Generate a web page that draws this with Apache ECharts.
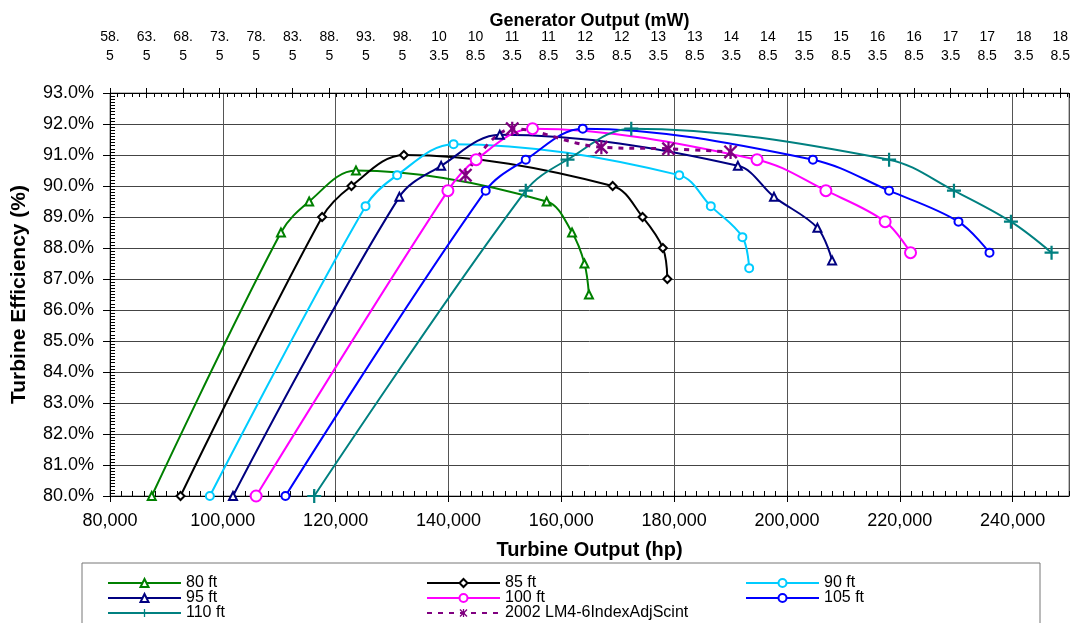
<!DOCTYPE html>
<html>
<head>
<meta charset="utf-8">
<script src="https://cdn.jsdelivr.net/npm/echarts@6/dist/echarts.min.js"></script>
<style>
  html, body { margin: 0; padding: 0; background: #fff; }
  #chart { width: 1073px; height: 623px; }
</style>
</head>
<body>
<div id="chart"></div>
<script>
// turbine output (hp) and efficiency (%) per head
const hp80 = [87400, 110300, 115300, 123600, 157400, 161900, 164100, 164900];
const eff80 = [80.0, 88.5, 89.5, 90.5, 89.5, 88.5, 87.5, 86.5];

const hp85 = [92500, 117600, 122800, 132100, 169100, 174400, 178000, 178800];
const eff85 = [80.0, 89.0, 90.0, 91.0, 90.0, 89.0, 88.0, 87.0];

const hp90 = [97700, 125300, 130900, 140900, 180900, 186500, 192100, 193300];
const eff90 = [80.0, 89.35, 90.35, 91.35, 90.35, 89.35, 88.35, 87.35];

const hp95 = [101800, 131300, 138700, 149100, 191300, 197700, 205400, 208000];
const eff95 = [80.0, 89.65, 90.65, 91.65, 90.65, 89.65, 88.65, 87.6];

const hp100 = [105900, 139900, 144900, 154900, 194700, 206900, 217400, 221900];
const eff100 = [80.0, 89.85, 90.85, 91.85, 90.85, 89.85, 88.85, 87.85];

const hp105 = [111100, 146600, 153700, 163800, 204600, 218100, 230400, 235900];
const eff105 = [80.0, 89.85, 90.85, 91.85, 90.85, 89.85, 88.85, 87.85];

const hp110 = [116200, 153700, 161100, 172400, 218100, 229600, 239700, 246900];
const eff110 = [80.0, 89.85, 90.85, 91.85, 90.85, 89.85, 88.85, 87.85];

const hpIdx = [143000, 151300, 167100, 179000, 190000];
const effIdx = [90.35, 91.85, 91.25, 91.2, 91.1];

// top axis (generator output, mW) tick labels
const genTicks = ['58.5', '63.5', '68.5', '73.5', '78.5', '83.5', '88.5', '93.5', '98.5',
  '103.5', '108.5', '113.5', '118.5', '123.5', '128.5', '133.5', '138.5', '143.5',
  '148.5', '153.5', '158.5', '163.5', '168.5', '173.5', '178.5', '183.5', '188.5'];

const font = 'Liberation Sans, Arial, sans-serif';

const plusPath = 'path://M4.2,0h1.6v10h-1.6z M0,4.2h10v1.6h-10z';
const starPath = 'path://M4.2,0h1.6v10h-1.6z M0,1.2L1.2,0L10,8.8L8.8,10z M8.8,0L10,1.2L1.2,10L0,8.8z';

function pairs(xs, ys) {
  return xs.map((x, i) => [x, ys[i]]);
}

function makeSeries(name, xs, ys, color, symbol, size, extra) {
  return Object.assign({
    name: name,
    type: 'line',
    xAxisIndex: 0,
    yAxisIndex: 0,
    smooth: 0.35,
    data: pairs(xs, ys),
    symbol: symbol,
    symbolSize: size,
    showAllSymbol: true,
    lineStyle: { color: color, width: 2 },
    itemStyle: { color: '#fff', borderColor: color, borderWidth: 2 },
    emphasis: { disabled: true },
    animation: false
  }, extra || {});
}

const chart = echarts.init(document.getElementById('chart'));

// one legend per entry so the three columns line up like the original
function legendItem(left, top, name) {
  return {
    left: left,
    top: top,
    padding: 0,
    itemWidth: 73,
    itemHeight: 10,
    data: [name],
    textStyle: { fontFamily: font, fontSize: 16, color: '#000', lineHeight: 16 },
    selectedMode: false
  };
}

const option = {
  animation: false,
  textStyle: { fontFamily: font },
  grid: {
    left: 110, top: 93, width: 962, height: 403,
    show: true, borderColor: '#777', borderWidth: 1
  },
  graphic: [{
    type: 'rect',
    shape: { x: 82, y: 563, width: 958, height: 70 },
    style: { fill: 'none', stroke: '#777', lineWidth: 1 },
    silent: true
  }],
  legend: [
    legendItem(107, 575, '80 ft'),
    legendItem(107, 590, '95 ft'),
    legendItem(107, 605, '110 ft'),
    legendItem(426, 575, '85 ft'),
    legendItem(426, 590, '100 ft'),
    legendItem(426, 605, '2002 LM4-6IndexAdjScint'),
    legendItem(745, 575, '90 ft'),
    legendItem(745, 590, '105 ft')
  ],
  xAxis: [
    {
      type: 'value', position: 'bottom', gridIndex: 0,
      min: 80000, max: 250000, interval: 20000,
      name: 'Turbine Output (hp)', nameLocation: 'middle', nameGap: 44,
      nameMoveOverlap: false,
      nameTextStyle: { fontFamily: font, fontSize: 20, fontWeight: 'bold', color: '#000' },
      axisLine: { show: true, lineStyle: { color: '#000' } },
      axisTick: { show: true, inside: false, length: 6, lineStyle: { color: '#000' } },
      axisLabel: { fontSize: 18, color: '#000', margin: 16, showMaxLabel: false },
      splitLine: { show: true, lineStyle: { color: '#555', width: 1 } }
    },
    {
      type: 'value', position: 'bottom', gridIndex: 0,
      min: 80000, max: 250000, interval: 20000,
      axisLine: { show: false },
      axisTick: { show: true, inside: true, length: 5, lineStyle: { color: '#000' } },
      minorTick: { show: true, splitNumber: 10, length: 5, lineStyle: { color: '#000' } },
      axisLabel: { show: false },
      splitLine: { show: false }
    },
    {
      type: 'value', position: 'top', gridIndex: 0,
      min: 0, max: 131.2, interval: 5,
      name: 'Generator Output (mW)', nameLocation: 'middle', nameGap: 63,
      nameMoveOverlap: false,
      nameTextStyle: { fontFamily: font, fontSize: 18, fontWeight: 'bold', color: '#000' },
      axisLine: { show: true, lineStyle: { color: '#000' } },
      axisTick: { show: true, inside: false, length: 5, lineStyle: { color: '#000' } },
      axisLabel: {
        fontSize: 14, color: '#000', margin: 27, lineHeight: 19, showMaxLabel: false,
        formatter: function (v) {
          const k = Math.round(v / 5);
          if (Math.abs(v / 5 - k) > 1e-6 || !genTicks[k]) return '';
          const s = genTicks[k];
          return s.length > 4 ? s.slice(0, 2) + '\n' + s.slice(2) : s.slice(0, 3) + '\n' + s.slice(3);
        }
      },
      splitLine: { show: false }
    },
    {
      type: 'value', position: 'top', gridIndex: 0,
      min: 0, max: 131.2, interval: 5,
      axisLine: { show: false },
      axisTick: { show: true, inside: true, length: 5, lineStyle: { color: '#000' } },
      minorTick: { show: true, splitNumber: 5, length: 4, lineStyle: { color: '#000' } },
      axisLabel: { show: false },
      splitLine: { show: false }
    }
  ],
  yAxis: [
    {
      type: 'value', position: 'left', gridIndex: 0,
      min: 80, max: 93, interval: 1,
      name: 'Turbine Efficiency (%)', nameLocation: 'middle', nameGap: 80,
      nameMoveOverlap: false,
      nameTextStyle: { fontFamily: font, fontSize: 21, fontWeight: 'bold', color: '#000' },
      axisLine: { show: true, lineStyle: { color: '#000' } },
      axisTick: { show: true, inside: false, length: 7, lineStyle: { color: '#000' } },
      axisLabel: {
        fontSize: 18, color: '#000', margin: 16,
        formatter: (v) => v.toFixed(1) + '%'
      },
      splitLine: { show: true, lineStyle: { color: '#444', width: 1 } }
    },
    {
      type: 'value', position: 'left', gridIndex: 0,
      min: 80, max: 93, interval: 1,
      axisLine: { show: false },
      axisTick: { show: true, inside: true, length: 5, lineStyle: { color: '#000' } },
      minorTick: { show: true, splitNumber: 10, length: 5, lineStyle: { color: '#000' } },
      axisLabel: { show: false },
      splitLine: { show: false }
    }
  ],
  series: [
    makeSeries('80 ft', hp80, eff80, '#008000', 'triangle', 8),
    makeSeries('85 ft', hp85, eff85, '#000000', 'diamond', 8),
    makeSeries('90 ft', hp90, eff90, '#00ccff', 'circle', 8),
    makeSeries('95 ft', hp95, eff95, '#000080', 'triangle', 8),
    makeSeries('100 ft', hp100, eff100, '#ff00ff', 'circle', 11),
    makeSeries('105 ft', hp105, eff105, '#0000ff', 'circle', 8),
    makeSeries('110 ft', hp110, eff110, '#008080', plusPath, 14, {
      itemStyle: { color: '#008080', borderWidth: 0 }
    }),
    makeSeries('2002 LM4-6IndexAdjScint', hpIdx, effIdx, '#800080', starPath, 14, {
      lineStyle: { color: '#800080', width: 3, type: [5, 6] },
      itemStyle: { color: '#800080', borderWidth: 0 }
    })
  ]
};

chart.setOption(option);
</script>
</body>
</html>
